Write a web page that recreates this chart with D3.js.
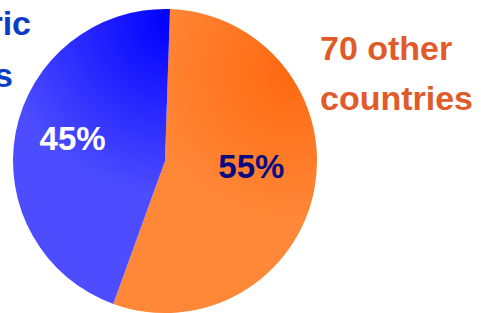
<!DOCTYPE html>
<html>
<head>
<meta charset="utf-8">
<script src="https://cdn.jsdelivr.net/npm/d3@7"></script>
<style>
  html, body { margin: 0; padding: 0; background: #fff; overflow: hidden; }
  svg { display: block; font-family: 'Liberation Sans', Arial, sans-serif; }
</style>
</head>
<body>
<svg id="chart"></svg>
<script>
// slices, clockwise from just right of 12 o'clock
const categories = ['70 other countries', 'Electric utilities'];
const shares = [55, 45];
const pctLabels = ['55%', '45%'];
const nameLines = [['70 other', 'countries'], ['Electric', 'utilities']];

const width = 481;
const height = 313;
const cx = 165;
const cy = 161;
const radius = 152;
const startAngle = 0.033;

// shading: darkest near the upper right of each slice, lighter outward
const sliceStyle = [
  { id: 'gOrange', from: '#ff6810', to: '#ff8838', fx: 292, fy: 72, r: 150, pct: '#0a0a80', name: '#e15b2a' },
  { id: 'gBlue', from: '#0000ff', to: '#4d4dff', fx: 172, fy: 22, r: 175, pct: '#ffffff', name: '#0a3cc6' },
];

const svg = d3.select('#chart').attr('width', width).attr('height', height);

const defs = svg.append('defs');
sliceStyle.forEach(s => {
  const grad = defs
    .append('radialGradient')
    .attr('id', s.id)
    .attr('gradientUnits', 'userSpaceOnUse')
    .attr('cx', s.fx)
    .attr('cy', s.fy)
    .attr('r', s.r);
  grad.append('stop').attr('offset', '0%').attr('stop-color', s.from);
  grad.append('stop').attr('offset', '100%').attr('stop-color', s.to);
});

const pie = d3
  .pie()
  .sort(null)
  .startAngle(startAngle)
  .endAngle(startAngle + 2 * Math.PI);
const arcs = pie(shares);

const arc = d3.arc().innerRadius(0).outerRadius(radius);
const labelArc = d3.arc().innerRadius(90).outerRadius(90);

const g = svg.append('g');

g.selectAll('path')
  .data(arcs)
  .enter()
  .append('path')
  .attr('transform', `translate(${cx},${cy})`)
  .attr('d', arc)
  .attr('fill', (d, i) => `url(#${sliceStyle[i].id})`)
  .attr('gradientTransform', null);

// gradients are in page space, so shift them back by the pie centre
defs.selectAll('radialGradient').attr('gradientTransform', `translate(${-cx},${-cy})`);

// percentage labels
const pctShift = [[-2, 0], [-4, 6]];
const lg = svg.append('g').attr('transform', `translate(${cx},${cy})`);
lg.selectAll('.pct')
  .data(arcs)
  .enter()
  .append('text')
  .attr('class', 'pct')
  .attr('x', (d, i) => labelArc.centroid(d)[0] + pctShift[i][0])
  .attr('y', (d, i) => labelArc.centroid(d)[1] + pctShift[i][1])
  .attr('text-anchor', 'middle')
  .attr('font-size', 33)
  .attr('font-weight', 'bold')
  .attr('fill', (d, i) => sliceStyle[i].pct)
  .text((d, i) => pctLabels[i]);

// category names
const orangeName = svg
  .append('text')
  .attr('font-size', 34)
  .attr('font-weight', 'bold')
  .attr('fill', sliceStyle[0].name);
nameLines[0].forEach((t, i) => {
  orangeName.append('tspan').attr('x', 320).attr('y', 60 + i * 50).text(t);
});

const blueName = svg
  .append('text')
  .attr('font-size', 34)
  .attr('font-weight', 'bold')
  .attr('text-anchor', 'end')
  .attr('fill', sliceStyle[1].name);
const blueEnds = [31, 13];
nameLines[1].forEach((t, i) => {
  blueName.append('tspan').attr('x', blueEnds[i]).attr('y', 35 + i * 52).text(t);
});
</script>
</body>
</html>
